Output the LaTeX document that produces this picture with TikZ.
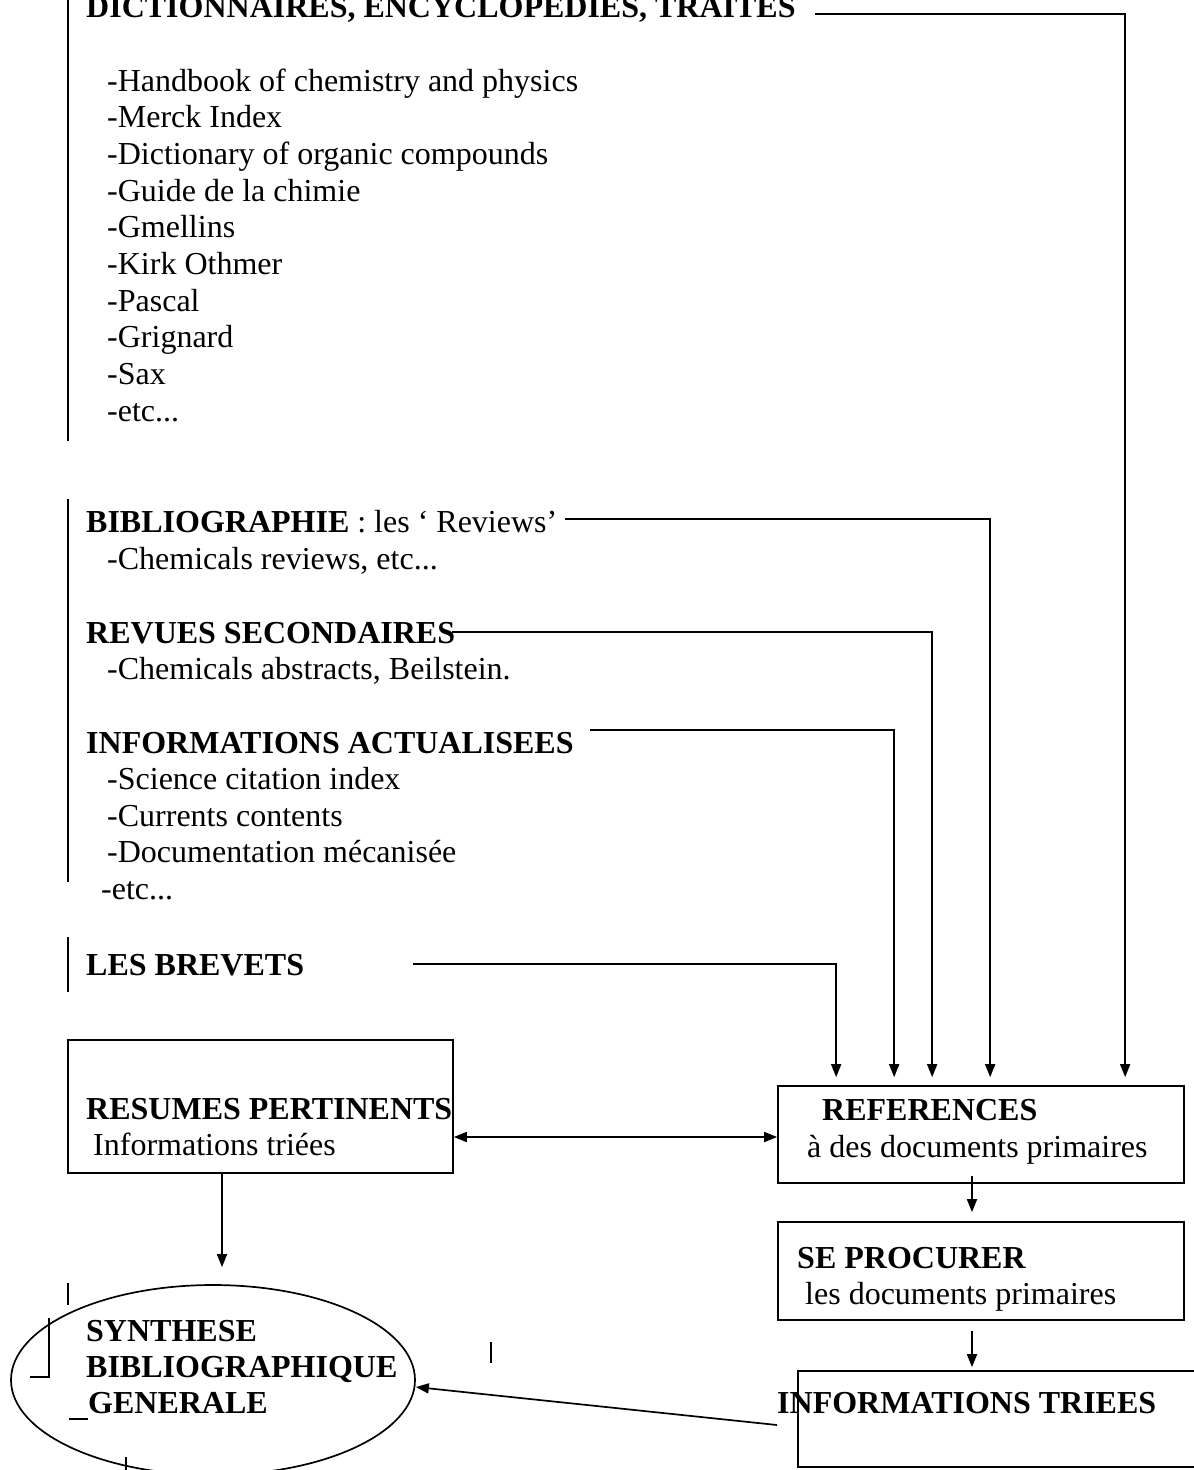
\documentclass[tikz,border=0pt]{standalone}
\usepackage{fontspec}
\setmainfont{Liberation Serif}
\usetikzlibrary{arrows.meta,shapes.geometric}
\begin{document}
\begin{tikzpicture}[x=1pt,y=-1pt,
  txt/.style={anchor=base west, inner sep=0pt, font=\fontsize{32}{36.8}\selectfont},
  bld/.style={anchor=base west, inner sep=0pt, font=\fontsize{32}{36.8}\selectfont\bfseries},
  ln/.style={line width=1.7pt},
  arr/.style={ln, -{Triangle[length=13pt,width=10pt]}},
  darr/.style={ln, {Triangle[length=13pt,width=10pt]}-{Triangle[length=13pt,width=10pt]}},
  boxnode/.style={draw, line width=1.7pt, rectangle, inner sep=0pt}]
\useasboundingbox (0,0) rectangle (1194,1470);

% left vertical markers
\draw[ln] (68,-5) -- (68,441);
\draw[ln] (68,499) -- (68,882);
\draw[ln] (68,937) -- (68,992);

% group 1
\node[bld] (dict) at (86,17) {DICTIONNAIRES, ENCYCLOPEDIES, TRAITES};
\node[txt] (li0) at (107,91.0) {-Handbook of chemistry and physics};
\node[txt] (li1) at (107,127.7) {-Merck Index};
\node[txt] (li2) at (107,164.4) {-Dictionary of organic compounds};
\node[txt] (li3) at (107,201.1) {-Guide de la chimie};
\node[txt] (li4) at (107,237.8) {-Gmellins};
\node[txt] (li5) at (107,274.5) {-Kirk Othmer};
\node[txt] (li6) at (107,311.2) {-Pascal};
\node[txt] (li7) at (107,347.9) {-Grignard};
\node[txt] (li8) at (107,384.6) {-Sax};
\node[txt] (li9) at (107,421.3) {-etc...};

% group 2
\node[txt] (biblio) at (86,532) {\textbf{BIBLIOGRAPHIE} : les ‘ Reviews’};
\node[txt] (chemrev) at (107,569) {-Chemicals reviews, etc...};
\node[bld] (revues) at (86,643) {REVUES SECONDAIRES};
\node[txt] (chemabs) at (107,679) {-Chemicals abstracts, Beilstein.};
\node[bld] (infoact) at (86,753) {INFORMATIONS ACTUALISEES};
\node[txt] (sci) at (107,789) {-Science citation index};
\node[txt] (cur) at (107,826) {-Currents contents};
\node[txt] (docm) at (107,862) {-Documentation mécanisée};
\node[txt] (etc2) at (101,899) {-etc...};
\node[bld] (brevets) at (86,975) {LES BREVETS};

% boxes
\node[boxnode, minimum width=385pt, minimum height=133pt] (resumes) at (260.5,1106.5) {};
\node[bld] (restitle) at (86,1119) {RESUMES PERTINENTS};
\node[txt] (restxt) at (93,1155) {Informations triées};

\node[boxnode, minimum width=406pt, minimum height=97pt] (ref) at (981,1134.5) {};
\node[bld] (reftitle) at (822,1120) {REFERENCES};
\node[txt] (reftxt) at (807,1157) {à des documents primaires};

\node[boxnode, minimum width=406pt, minimum height=98pt] (se) at (981,1271) {};
\node[bld] (setitle) at (797,1268) {SE PROCURER};
\node[txt] (setxt) at (805,1304) {les documents primaires};

\node[boxnode, minimum width=404pt, minimum height=96pt] (info) at (1000,1419) {};
\node[bld] (infotitle) at (777,1413) {INFORMATIONS TRIEES};

\node[draw, ellipse, line width=1.7pt, minimum width=404pt, minimum height=190pt, inner sep=0pt] (synth) at (213,1380) {};
\node[bld] (syn1) at (86,1341) {SYNTHESE};
\node[bld] (syn2) at (86,1377) {BIBLIOGRAPHIQUE};
\node[bld] (syn3) at (88,1413) {GENERALE};

% stray marks near ellipse
\draw[ln] (68,1283) -- (68,1305);
\draw[ln] (49,1318) -- (49,1377) -- (30,1377);
\draw[ln] (69,1419) -- (88,1419);
\draw[ln] (126,1457) -- (126,1472);
\draw[ln] (491,1342) -- (491,1363);

% connectors from headings to references
\coordinate (c1) at (815,14);
\coordinate (c2) at (565,519);
\coordinate (c3) at (452,632);
\coordinate (c4) at (590,730);
\coordinate (c5) at (413,964);
\draw[arr] (c1) -| ([xshift=348pt,yshift=8pt]ref.north west);
\draw[arr] (c2) -| ([xshift=213pt,yshift=8pt]ref.north west);
\draw[arr] (c3) -| ([xshift=155pt,yshift=8pt]ref.north west);
\draw[arr] (c4) -| ([xshift=117pt,yshift=8pt]ref.north west);
\draw[arr] (c5) -| ([xshift=59pt,yshift=8pt]ref.north west);

% other connectors
\draw[darr] (resumes.east |- {(0,1137)}) -- (ref.west |- {(0,1137)});
\draw[arr] (resumes.south -| {(222,0)}) -- ([yshift=17pt]synth.north -| {(222,0)});
\draw[arr] ([yshift=8pt]ref.south -| {(972,0)}) -- ([yshift=9pt]se.north -| {(972,0)});
\draw[arr] ([yshift=-10pt]se.south -| {(972,0)}) -- ([yshift=3pt]info.north -| {(972,0)});
\coordinate (itstart) at (777,1425);
\draw[arr] (itstart) -- ([yshift=-7pt]synth.east);
\end{tikzpicture}
\end{document}
